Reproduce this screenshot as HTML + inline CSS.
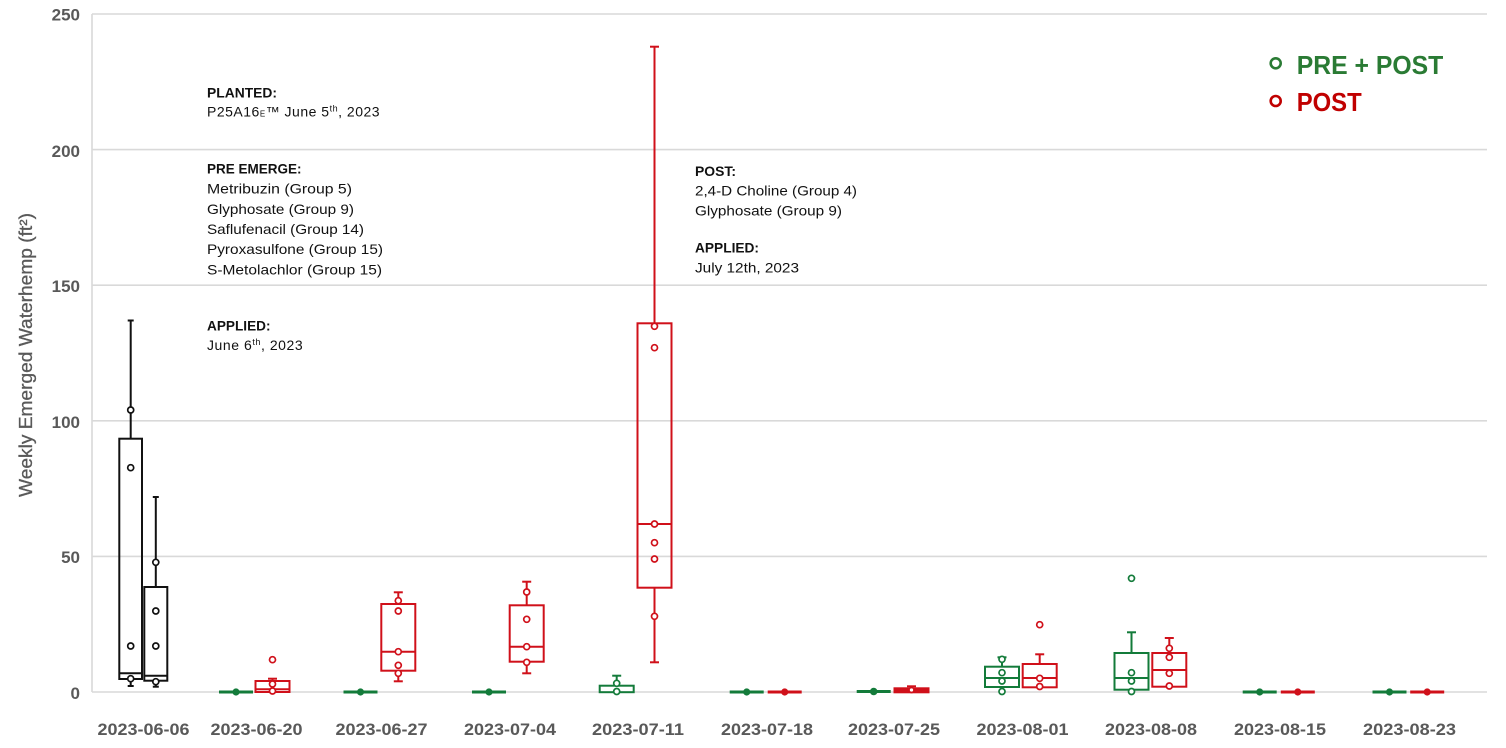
<!DOCTYPE html>
<html>
<head>
<meta charset="utf-8">
<style>
html,body{margin:0;padding:0;background:#fff;}
svg{display:block;}
text{font-family:"Liberation Sans",Arial,sans-serif;}
</style>
</head>
<body>
<svg width="1506" height="748" viewBox="0 0 1506 748" xmlns="http://www.w3.org/2000/svg">
<rect width="1506" height="748" fill="#fff"/>
<!-- gridlines -->
<g stroke="#d9d9d9" stroke-width="1.6">
<line x1="92" y1="14" x2="1487" y2="14"/>
<line x1="92" y1="149.6" x2="1487" y2="149.6"/>
<line x1="92" y1="285.2" x2="1487" y2="285.2"/>
<line x1="92" y1="420.8" x2="1487" y2="420.8"/>
<line x1="92" y1="556.4" x2="1487" y2="556.4"/>
<line x1="92" y1="692" x2="1487" y2="692"/>
<line x1="92" y1="14" x2="92" y2="692"/>
</g>
<!-- y tick labels -->
<g fill="#595959" font-weight="bold" font-size="17" text-anchor="end">
<text x="80" y="20.5">250</text>
<text x="80" y="157">200</text>
<text x="80" y="292">150</text>
<text x="80" y="428">100</text>
<text x="80" y="563">50</text>
<text x="80" y="699">0</text>
</g>
<!-- y title -->
<text transform="translate(32,497) rotate(-90)" fill="#595959" stroke="#595959" stroke-width="0.3" font-size="18" textLength="284" lengthAdjust="spacingAndGlyphs">Weekly Emerged Waterhemp (ft²)</text>
<!-- x labels -->
<g fill="#595959" font-weight="bold" font-size="17" text-anchor="middle">
<text x="143.5" y="735" textLength="92" lengthAdjust="spacingAndGlyphs">2023-06-06</text>
<text x="256.5" y="735" textLength="92" lengthAdjust="spacingAndGlyphs">2023-06-20</text>
<text x="381.5" y="735" textLength="92" lengthAdjust="spacingAndGlyphs">2023-06-27</text>
<text x="510" y="735" textLength="92" lengthAdjust="spacingAndGlyphs">2023-07-04</text>
<text x="638" y="735" textLength="92" lengthAdjust="spacingAndGlyphs">2023-07-11</text>
<text x="767" y="735" textLength="92" lengthAdjust="spacingAndGlyphs">2023-07-18</text>
<text x="894" y="735" textLength="92" lengthAdjust="spacingAndGlyphs">2023-07-25</text>
<text x="1022.5" y="735" textLength="92" lengthAdjust="spacingAndGlyphs">2023-08-01</text>
<text x="1151" y="735" textLength="92" lengthAdjust="spacingAndGlyphs">2023-08-08</text>
<text x="1280" y="735" textLength="92" lengthAdjust="spacingAndGlyphs">2023-08-15</text>
<text x="1409.5" y="735" textLength="93" lengthAdjust="spacingAndGlyphs">2023-08-23</text>
</g>

<!-- annotations left -->
<g fill="#111" font-size="14">
<text x="207" y="97.5" font-weight="bold" textLength="70" lengthAdjust="spacingAndGlyphs">PLANTED:</text>
<text x="207" y="116.5" letter-spacing="0.5">P25A16<tspan font-size="8">E</tspan>™  June 5<tspan font-size="9" dy="-5">th</tspan><tspan dy="5">, 2023</tspan></text>
<text x="207" y="173.5" font-weight="bold" textLength="94.5" lengthAdjust="spacingAndGlyphs">PRE EMERGE:</text>
<text x="207" y="193.5" textLength="145" lengthAdjust="spacingAndGlyphs">Metribuzin (Group 5)</text>
<text x="207" y="213.8" textLength="147" lengthAdjust="spacingAndGlyphs">Glyphosate (Group 9)</text>
<text x="207" y="234" textLength="157" lengthAdjust="spacingAndGlyphs">Saflufenacil (Group 14)</text>
<text x="207" y="254.2" textLength="176" lengthAdjust="spacingAndGlyphs">Pyroxasulfone (Group 15)</text>
<text x="207" y="274.4" textLength="175" lengthAdjust="spacingAndGlyphs">S-Metolachlor (Group 15)</text>
<text x="207" y="330.7" font-weight="bold" textLength="63.5" lengthAdjust="spacingAndGlyphs">APPLIED:</text>
<text x="207" y="350" letter-spacing="0.55">June 6<tspan font-size="9" dy="-5">th</tspan><tspan dy="5">, 2023</tspan></text>
</g>
<!-- annotations right -->
<g fill="#111" font-size="14">
<text x="695" y="176" font-weight="bold" textLength="41" lengthAdjust="spacingAndGlyphs">POST:</text>
<text x="695" y="195.7" textLength="162" lengthAdjust="spacingAndGlyphs">2,4-D Choline (Group 4)</text>
<text x="695" y="215.7" textLength="147" lengthAdjust="spacingAndGlyphs">Glyphosate (Group 9)</text>
<text x="695" y="252.7" font-weight="bold" textLength="64" lengthAdjust="spacingAndGlyphs">APPLIED:</text>
<text x="695" y="272.3" textLength="104" lengthAdjust="spacingAndGlyphs">July 12th, 2023</text>
</g>

<!-- legend -->
<circle cx="1275.7" cy="63.3" r="5" fill="none" stroke="#2a7b34" stroke-width="2.6"/>
<circle cx="1275.7" cy="101" r="5" fill="none" stroke="#c00000" stroke-width="2.6"/>
<text x="1296.7" y="74" fill="#2a7b34" font-size="26" font-weight="bold" textLength="146.6" lengthAdjust="spacingAndGlyphs">PRE + POST</text>
<text x="1296.7" y="111" fill="#c00000" font-size="26" font-weight="bold" textLength="65" lengthAdjust="spacingAndGlyphs">POST</text>

<!-- black boxes 06-06 -->
<g stroke="#111" stroke-width="2" fill="none">
<line x1="130.7" y1="320.5" x2="130.7" y2="438.7"/>
<line x1="127.7" y1="320.5" x2="133.7" y2="320.5"/>
<line x1="130.7" y1="679" x2="130.7" y2="686"/>
<line x1="127.7" y1="686" x2="133.7" y2="686"/>
<rect x="119.3" y="438.7" width="22.7" height="240.3"/>
<line x1="119.3" y1="673.3" x2="142" y2="673.3"/>
<line x1="155.8" y1="497" x2="155.8" y2="587"/>
<line x1="152.8" y1="497" x2="158.8" y2="497"/>
<line x1="155.8" y1="680.7" x2="155.8" y2="686.7"/>
<line x1="152.8" y1="686.7" x2="158.8" y2="686.7"/>
<rect x="144.3" y="587" width="23" height="93.7"/>
<line x1="144.3" y1="675.7" x2="167.3" y2="675.7"/>
</g>
<g stroke="#111" stroke-width="1.7" fill="#fff">
<circle cx="130.7" cy="410" r="3"/>
<circle cx="130.7" cy="467.7" r="3"/>
<circle cx="130.7" cy="646" r="3"/>
<circle cx="130.7" cy="678.7" r="3"/>
<circle cx="155.8" cy="562.3" r="3"/>
<circle cx="155.8" cy="611" r="3"/>
<circle cx="155.8" cy="646" r="3"/>
<circle cx="155.8" cy="681.7" r="3"/>
</g>

<!-- green flat series -->
<g stroke="#137b3a" stroke-width="3">
<line x1="219" y1="692" x2="253" y2="692"/>
<line x1="343.5" y1="692" x2="377.5" y2="692"/>
<line x1="472" y1="692" x2="506" y2="692"/>
<line x1="729.7" y1="692" x2="763.7" y2="692"/>
<line x1="856.7" y1="691.5" x2="890.7" y2="691.5"/>
<line x1="1242.7" y1="692" x2="1276.7" y2="692"/>
<line x1="1372.5" y1="692" x2="1406.5" y2="692"/>
</g>
<g fill="#137b3a">
<circle cx="236" cy="692" r="3.6"/>
<circle cx="360.5" cy="692" r="3.6"/>
<circle cx="489" cy="692" r="3.6"/>
<circle cx="746.7" cy="692" r="3.6"/>
<circle cx="873.7" cy="691.5" r="3.8"/>
<circle cx="1259.7" cy="692" r="3.6"/>
<circle cx="1389.5" cy="692" r="3.6"/>
</g>
<!-- red flat series -->
<g stroke="#d0101a" stroke-width="3">
<line x1="767.7" y1="692" x2="801.7" y2="692"/>
<line x1="1280.8" y1="692" x2="1314.8" y2="692"/>
<line x1="1410.2" y1="692" x2="1444.2" y2="692"/>
</g>
<g fill="#d0101a">
<circle cx="784.7" cy="692" r="3.6"/>
<circle cx="1297.8" cy="692" r="3.6"/>
<circle cx="1427.2" cy="692" r="3.6"/>
</g>

<!-- green boxes -->
<g stroke="#137b3a" stroke-width="2" fill="none">
<line x1="616.7" y1="675.7" x2="616.7" y2="685.7"/>
<line x1="612.2" y1="675.7" x2="621.2" y2="675.7"/>
<rect x="599.7" y="685.7" width="34" height="6.5"/>
<line x1="1002" y1="657.3" x2="1002" y2="666.7"/>
<line x1="997.5" y1="657.3" x2="1006.5" y2="657.3"/>
<rect x="985" y="666.7" width="34" height="20.3"/>
<line x1="985" y1="678" x2="1019" y2="678"/>
<line x1="1002" y1="687" x2="1002" y2="692"/>
<line x1="1131.5" y1="632.3" x2="1131.5" y2="653"/>
<line x1="1127" y1="632.3" x2="1136" y2="632.3"/>
<rect x="1114.5" y="653" width="34" height="36.7"/>
<line x1="1114.5" y1="678" x2="1148.5" y2="678"/>
<line x1="1131.5" y1="689.7" x2="1131.5" y2="692"/>
</g>
<g stroke="#137b3a" stroke-width="1.7" fill="#fff">
<circle cx="616.7" cy="683.3" r="3"/>
<circle cx="616.7" cy="691.5" r="3"/>
<circle cx="1002" cy="659.3" r="3"/>
<circle cx="1002" cy="672.7" r="3"/>
<circle cx="1002" cy="681" r="3"/>
<circle cx="1002" cy="691.5" r="3"/>
<circle cx="1131.5" cy="578.3" r="3"/>
<circle cx="1131.5" cy="672.7" r="3"/>
<circle cx="1131.5" cy="681" r="3"/>
<circle cx="1131.5" cy="691.5" r="3"/>
</g>

<!-- red boxes -->
<g stroke="#d0101a" stroke-width="2" fill="none">
<line x1="272.5" y1="678.7" x2="272.5" y2="681"/>
<line x1="268" y1="678.7" x2="277" y2="678.7"/>
<rect x="255.5" y="681" width="34" height="11"/>
<line x1="255.5" y1="689.3" x2="289.5" y2="689.3"/>
<line x1="398.3" y1="592.3" x2="398.3" y2="604"/>
<line x1="393.8" y1="592.3" x2="402.8" y2="592.3"/>
<rect x="381.3" y="604" width="34" height="66.7"/>
<line x1="381.3" y1="651.7" x2="415.3" y2="651.7"/>
<line x1="398.3" y1="670.7" x2="398.3" y2="681.3"/>
<line x1="393.8" y1="681.3" x2="402.8" y2="681.3"/>
<line x1="526.7" y1="581.7" x2="526.7" y2="605.3"/>
<line x1="522.2" y1="581.7" x2="531.2" y2="581.7"/>
<rect x="509.7" y="605.3" width="34" height="56.4"/>
<line x1="509.7" y1="646.7" x2="543.7" y2="646.7"/>
<line x1="526.7" y1="661.7" x2="526.7" y2="673.3"/>
<line x1="522.2" y1="673.3" x2="531.2" y2="673.3"/>
<line x1="654.5" y1="46.7" x2="654.5" y2="323.3"/>
<line x1="650" y1="46.7" x2="659" y2="46.7"/>
<rect x="637.5" y="323.3" width="34" height="264.4"/>
<line x1="637.5" y1="524" x2="671.5" y2="524"/>
<line x1="654.5" y1="587.7" x2="654.5" y2="662.3"/>
<line x1="650" y1="662.3" x2="659" y2="662.3"/>
<line x1="911.5" y1="686.3" x2="911.5" y2="688.3"/>
<line x1="907" y1="686.3" x2="916" y2="686.3"/>
<rect x="894.5" y="688.3" width="34" height="4" fill="#d0101a"/>
<line x1="1039.7" y1="654.3" x2="1039.7" y2="664"/>
<line x1="1035.2" y1="654.3" x2="1044.2" y2="654.3"/>
<rect x="1022.7" y="664" width="34" height="23.3"/>
<line x1="1022.7" y1="678" x2="1056.7" y2="678"/>
<line x1="1169.3" y1="638" x2="1169.3" y2="653"/>
<line x1="1164.8" y1="638" x2="1173.8" y2="638"/>
<rect x="1152.3" y="653" width="34" height="33.7"/>
<line x1="1152.3" y1="670" x2="1186.3" y2="670"/>
</g>
<g stroke="#d0101a" stroke-width="1.7" fill="#fff">
<circle cx="272.5" cy="659.7" r="3"/>
<circle cx="272.5" cy="684" r="3"/>
<circle cx="272.5" cy="691" r="3"/>
<circle cx="398.3" cy="600.7" r="3"/>
<circle cx="398.3" cy="611" r="3"/>
<circle cx="398.3" cy="651.7" r="3"/>
<circle cx="398.3" cy="665.3" r="3"/>
<circle cx="398.3" cy="673.3" r="3"/>
<circle cx="526.7" cy="592" r="3"/>
<circle cx="526.7" cy="619.3" r="3"/>
<circle cx="526.7" cy="646.7" r="3"/>
<circle cx="526.7" cy="662.3" r="3"/>
<circle cx="654.5" cy="326.3" r="3"/>
<circle cx="654.5" cy="347.7" r="3"/>
<circle cx="654.5" cy="524" r="3"/>
<circle cx="654.5" cy="542.7" r="3"/>
<circle cx="654.5" cy="559" r="3"/>
<circle cx="654.5" cy="616.3" r="3"/>
<circle cx="911.5" cy="690" r="2.5"/>
<circle cx="1039.7" cy="624.7" r="3"/>
<circle cx="1039.7" cy="678.3" r="3"/>
<circle cx="1039.7" cy="686.5" r="3"/>
<circle cx="1169.3" cy="648.3" r="3"/>
<circle cx="1169.3" cy="657.3" r="3"/>
<circle cx="1169.3" cy="673.3" r="3"/>
<circle cx="1169.3" cy="686" r="3"/>
</g>
</svg>
</body>
</html>
